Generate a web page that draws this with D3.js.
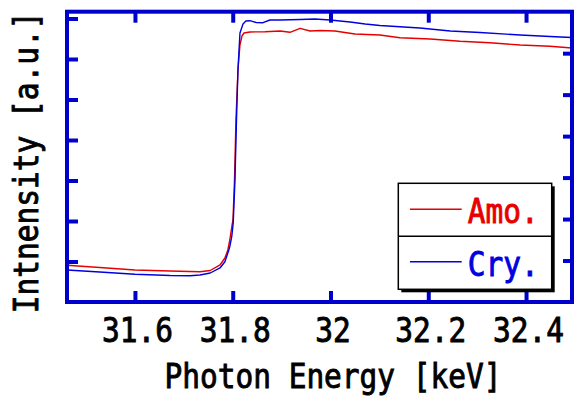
<!DOCTYPE html>
<html>
<head>
<meta charset="utf-8">
<script src="https://cdn.jsdelivr.net/npm/d3@7"></script>
<style>
  body { margin: 0; background: #fff; }
  svg { display: block; }
  text { font-family: "DejaVu Sans Mono", monospace; }
</style>
</head>
<body>
<div id="chart"></div>
<script>
// data
const amoEnergy = [31.461, 31.528, 31.600, 31.672, 31.733, 31.754, 31.774, 31.784, 31.790, 31.794, 31.798,
  31.8005, 31.8036, 31.8066, 31.8107, 31.8148, 31.8189, 31.823, 31.835, 31.866, 31.897, 31.917, 31.938,
  31.958, 31.979, 32.009, 32.050, 32.101, 32.142, 32.204, 32.265, 32.326, 32.388, 32.449, 32.494];
const amoIntensity = [0.906, 0.852, 0.790, 0.765, 0.748, 0.778, 0.914, 1.086, 1.284, 1.531, 1.852,
  2.025, 3.012, 4.494, 5.728, 6.346, 6.568, 6.642, 6.667, 6.674, 6.691, 6.659, 6.758,
  6.691, 6.704, 6.691, 6.617, 6.593, 6.526, 6.494, 6.437, 6.402, 6.346, 6.314, 6.272];

const cryEnergy = [31.461, 31.528, 31.600, 31.672, 31.7125, 31.733, 31.754, 31.774, 31.784, 31.790, 31.794,
  31.798, 31.801, 31.8046, 31.8077, 31.8107, 31.8148, 31.821, 31.827, 31.835, 31.848, 31.862, 31.876,
  31.897, 31.938, 31.968, 31.999, 32.040, 32.071, 32.101, 32.183, 32.245, 32.306, 32.388, 32.470, 32.494];
const cryIntensity = [0.790, 0.741, 0.684, 0.654, 0.649, 0.667, 0.716, 0.840, 0.995, 1.210, 1.365,
  1.612, 1.951, 3.012, 4.494, 5.728, 6.642, 6.864, 6.938, 6.946, 6.901, 6.896, 6.963,
  6.963, 6.975, 6.988, 6.963, 6.914, 6.864, 6.827, 6.765, 6.691, 6.654, 6.593, 6.543, 6.531];

const xTicks = [31.6, 31.8, 32, 32.2, 32.4];
const leftTicks = [1, 2, 3, 4, 5, 6, 7];
const rightTicks = [1, 2, 3, 4, 5, 6];
const seriesNames = ['Amo.', 'Cry.'];
const seriesColors = ['#e60000', '#0000e0'];

// layout
const width = 574, height = 399;
const margins = { top: 11.7, bottom: 97, left: 67, right: 2 };
const axisColor = '#0000cd';
const glyphScale = 'scale(1,1.15)';

const svg = d3.select('#chart').append('svg')
    .attr('width', width)
    .attr('height', height);

// scales
const x = d3.scaleLinear().domain([31.461, 32.494]).range([margins.left, width - margins.right]);
const y = d3.scaleLinear().domain([0, 7.168]).range([height - margins.bottom, margins.top]);
const yRight = d3.scaleLinear().domain([0, 7]).range([height - margins.bottom, margins.top]);

// clip
svg.append('clipPath').attr('id', 'plot-clip')
    .append('rect')
    .attr('x', x.range()[0]).attr('y', y.range()[1])
    .attr('width', x.range()[1] - x.range()[0])
    .attr('height', y.range()[0] - y.range()[1]);

// lines
const line = d3.line()
    .x(d => x(d[0]))
    .y(d => y(d[1]));

const series = [
    d3.zip(amoEnergy, amoIntensity),
    d3.zip(cryEnergy, cryIntensity)
];

svg.append('g').attr('clip-path', 'url(#plot-clip)')
    .selectAll('path')
    .data(series)
    .join('path')
    .attr('fill', 'none')
    .attr('stroke', (d, i) => seriesColors[i])
    .attr('stroke-width', 1.4)
    .attr('stroke-linejoin', 'round')
    .attr('d', line);

// axes
function styleAxis(g) {
    g.select('.domain').remove();
    g.selectAll('.tick line').attr('stroke', axisColor).attr('stroke-width', 4);
}

// heavier glyphs, like the original
function heavyText(sel, color) {
    sel.attr('font-size', 29.5)
        .attr('font-family', '"DejaVu Sans Mono", monospace')
        .attr('fill', color)
        .attr('stroke', color)
        .attr('stroke-width', 0.8);
}

const bottomAxis = svg.append('g')
    .attr('transform', `translate(0,${y.range()[0]})`)
    .call(d3.axisBottom(x).tickValues(xTicks).tickSizeInner(-11).tickSizeOuter(0).tickFormat(d3.format('~g')))
    .call(styleAxis);

bottomAxis.selectAll('.tick text')
    .attr('y', 0).attr('dy', null)
    .attr('transform', `translate(2,39.7) ${glyphScale}`)
    .call(heavyText, '#000');

svg.append('g')
    .attr('transform', `translate(0,${y.range()[1]})`)
    .call(d3.axisTop(x).tickValues(xTicks).tickSizeInner(-11).tickSizeOuter(0).tickFormat(''))
    .call(styleAxis);

svg.append('g')
    .attr('transform', `translate(${x.range()[0]},0)`)
    .call(d3.axisLeft(y).tickValues(leftTicks).tickSizeInner(-11).tickSizeOuter(0).tickFormat(''))
    .call(styleAxis);

svg.append('g')
    .attr('transform', `translate(${x.range()[1]},0)`)
    .call(d3.axisRight(yRight).tickValues(rightTicks).tickSizeInner(-9).tickSizeOuter(0).tickFormat(''))
    .call(styleAxis);

// frame
svg.append('rect')
    .attr('x', x.range()[0]).attr('y', y.range()[1])
    .attr('width', x.range()[1] - x.range()[0])
    .attr('height', y.range()[0] - y.range()[1])
    .attr('fill', 'none')
    .attr('stroke', axisColor)
    .attr('stroke-width', 4);

// axis titles
svg.append('text')
    .attr('transform', `translate(333,388) ${glyphScale}`)
    .attr('text-anchor', 'middle')
    .call(heavyText, '#000')
    .text('Photon Energy [keV]');

svg.append('text')
    .attr('transform', `translate(38,162.4) rotate(-90) ${glyphScale}`)
    .attr('text-anchor', 'middle')
    .call(heavyText, '#000')
    .text('Intnensity [a.u.]');

// legend
const legend = svg.append('g').attr('transform', 'translate(398.3,183.3)');
const legendW = 153.4, legendH = 106;

legend.append('rect')
    .attr('x', 3).attr('y', 3)
    .attr('width', legendW).attr('height', legendH)
    .attr('fill', '#000');

legend.append('rect')
    .attr('width', legendW).attr('height', legendH)
    .attr('fill', '#fff')
    .attr('stroke', '#000')
    .attr('stroke-width', 1.5);

legend.append('line')
    .attr('x1', 0).attr('x2', legendW)
    .attr('y1', legendH / 2).attr('y2', legendH / 2)
    .attr('stroke', '#000')
    .attr('stroke-width', 1.5);

const items = legend.selectAll('.legend-item')
    .data(seriesNames)
    .join('g')
    .attr('class', 'legend-item')
    .attr('transform', (d, i) => `translate(0,${i * 52.4})`);

items.append('line')
    .attr('x1', 11.7).attr('x2', 63.4)
    .attr('y1', 26).attr('y2', 26)
    .attr('stroke', (d, i) => seriesColors[i])
    .attr('stroke-width', 1.4);

items.append('text')
    .attr('transform', `translate(69.5,40) ${glyphScale}`)
    .each(function (d, i) { d3.select(this).call(heavyText, seriesColors[i]); })
    .text(d => d);
</script>
</body>
</html>
